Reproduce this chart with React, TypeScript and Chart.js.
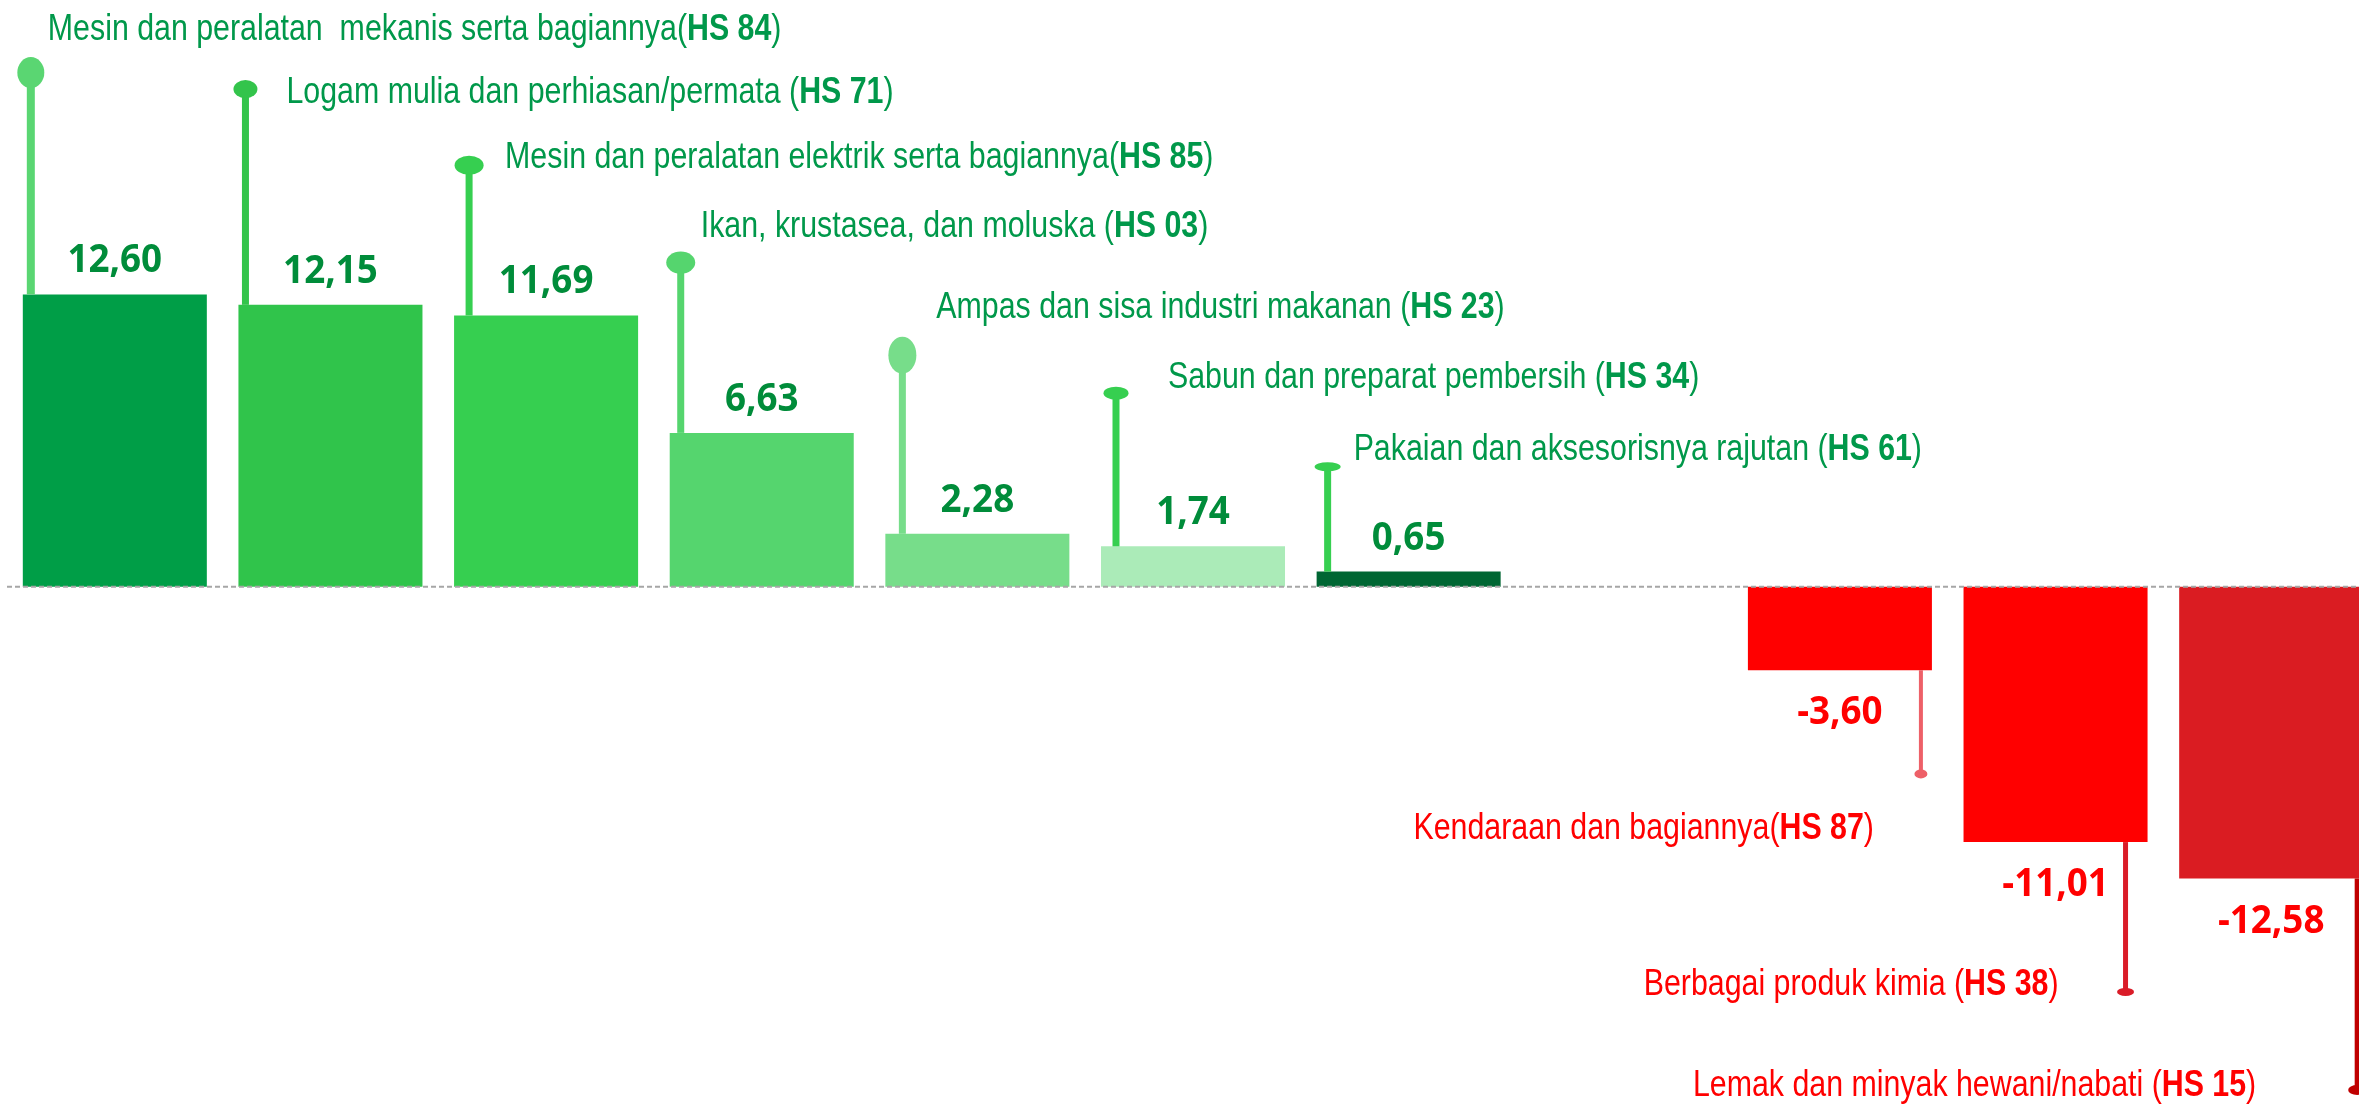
import React, { useEffect, useRef } from "react";
import { Chart, registerables } from "chart.js";

Chart.register(...registerables);

// ---------- data ----------
const categories = [
  "Mesin dan peralatan  mekanis serta bagiannya",
  "Logam mulia dan perhiasan/permata ",
  "Mesin dan peralatan elektrik serta bagiannya",
  "Ikan, krustasea, dan moluska ",
  "Ampas dan sisa industri makanan ",
  "Sabun dan preparat pembersih ",
  "Pakaian dan aksesorisnya rajutan ",
  "",
  "Kendaraan dan bagiannya",
  "Berbagai produk kimia ",
  "Lemak dan minyak hewani/nabati ",
];
const hsCodes = ["HS 84", "HS 71", "HS 85", "HS 03", "HS 23", "HS 34", "HS 61", "", "HS 87", "HS 38", "HS 15"];
const values = [12.6, 12.15, 11.69, 6.63, 2.28, 1.74, 0.65, null, -3.6, -11.01, -12.58];
// end value of each lollipop stem (same units as values)
const markerValues = [22.16, 21.45, 18.17, 13.97, 9.98, 8.34, 5.17, null, -8.07, -17.47, -21.7];

// ---------- styles ----------
const barColors = ["#009E47", "#30C44B", "#36CF50", "#55D56E", "#77DD8A", "#ABEBB8", "#006633", "#ffffff", "#FF0000", "#FF0000", "#DA1C22"];
const stemColors = ["#5AD672", "#33C44B", "#36CF50", "#55D56E", "#77DD8A", "#36CF50", "#36CF50", "", "#EE6068", "#DA1C28", "#C00000"];
const stemWidths = [8, 7, 7, 7, 7, 7, 7, 0, 4, 5, 5];
const dotSizes = [[27, 31], [24, 18], [29, 19], [29, 22], [28, 37], [25, 13], [26, 9], [0, 0], [13, 9], [17, 8], [18, 10]];
const stemOffsets = [-84, -85, -77, -81, -75, -77, -81, 0, 81, 70, 86];
// label: [dx from stem, baseline dy from dot]; negatives are right-aligned
const labelOffsets = [[17, -32.7], [41, 13.7], [36, 3], [20, -25.7], [34, -37], [52, -5.3], [26, -6.7], [0, 0], [-47, 65.3], [-67, 3], [-101, 6]];
const GREEN_TEXT = "#00984A";
const GREEN_VALUE = "#008C3A";
const RED_TEXT = "#FF0000";
const LABEL_SIZE = 37;

const Y_MIN = -22.3;
const Y_MAX = 25.29;

function fmt(v: number) {
  return v.toFixed(2).replace(".", ",");
}

const overlayPlugin = {
  id: "overlay",
  afterDatasetsDraw(chart: any) {
    const ctx: CanvasRenderingContext2D = chart.ctx;
    const xs = chart.scales.x;
    const ys = chart.scales.y;
    const area = chart.chartArea;
    const zeroY = ys.getPixelForValue(0);

    // detect narrow font
    ctx.save();
    ctx.font = '36px "Liberation Sans Narrow", monospace';
    const wNarrow = ctx.measureText("Mesin dan peralatan").width;
    ctx.font = "36px monospace";
    const wMono = ctx.measureText("Mesin dan peralatan").width;
    ctx.restore();
    const hasNarrow = Math.abs(wNarrow - wMono) > 1;
    const baseFamily = hasNarrow ? '"Liberation Sans Narrow"' : '"Liberation Sans"';
    const sx = hasNarrow ? 1 : 0.82;

    // zero line
    ctx.save();
    ctx.strokeStyle = "#A6A6A6";
    ctx.lineWidth = 2;
    ctx.setLineDash([5, 3]);
    ctx.beginPath();
    ctx.moveTo(area.left, zeroY);
    ctx.lineTo(area.right + 20, zeroY);
    ctx.stroke();
    ctx.restore();

    values.forEach((v, i) => {
      if (v === null || markerValues[i] === null) return;
      const cx = xs.getPixelForValue(i);
      const barEnd = ys.getPixelForValue(v);
      const dotY = ys.getPixelForValue(markerValues[i] as number);
      const stemX = cx + stemOffsets[i];

      // stem
      ctx.save();
      ctx.fillStyle = stemColors[i];
      const w = stemWidths[i];
      const top = Math.min(barEnd, dotY);
      const bot = Math.max(barEnd, dotY);
      ctx.fillRect(stemX - w / 2, top, w, bot - top);
      // dot
      const [dw, dh] = dotSizes[i];
      ctx.beginPath();
      ctx.ellipse(stemX, dotY, dw / 2, dh / 2, 0, 0, Math.PI * 2);
      ctx.fill();
      ctx.restore();

      // value label
      ctx.save();
      ctx.font = 'bold 40px "Open Sans"';
      ctx.textAlign = "center";
      ctx.textBaseline = "alphabetic";
      ctx.fillStyle = v >= 0 ? GREEN_VALUE : RED_TEXT;
      const vy = v >= 0 ? barEnd - 22 : barEnd + 54;
      ctx.translate(cx, vy);
      ctx.scale(0.92, 1);
      ctx.fillText(fmt(v), 0, 0);
      ctx.restore();

      // category label
      const parts: [string, boolean][] = [
        [categories[i] + "(", false],
        [hsCodes[i], true],
        [")", false],
      ];
      ctx.save();
      ctx.fillStyle = v >= 0 ? GREEN_TEXT : RED_TEXT;
      ctx.textAlign = "left";
      ctx.textBaseline = "alphabetic";
      let total = 0;
      const widths = parts.map(([t, b]) => {
        ctx.font = (b ? "bold " : "") + LABEL_SIZE + "px " + baseFamily;
        const mw = ctx.measureText(t).width;
        total += mw;
        return mw;
      });
      const [ldx, ldy] = labelOffsets[i];
      const startX = v >= 0 ? stemX + ldx : stemX + ldx - total * sx;
      ctx.translate(startX, dotY + ldy);
      ctx.scale(sx, 1);
      let px = 0;
      parts.forEach(([t, b], k) => {
        ctx.font = (b ? "bold " : "") + LABEL_SIZE + "px " + baseFamily;
        ctx.fillText(t, px, 0);
        px += widths[k];
      });
      ctx.restore();
    });
  },
};

export default function App() {
  const ref = useRef<HTMLCanvasElement | null>(null);
  useEffect(() => {
    document.body.style.margin = "0";
    const canvas = ref.current;
    if (!canvas) return;
    const chart = new Chart(canvas, {
      type: "bar",
      data: {
        labels: categories.map((c, i) => c + hsCodes[i]),
        datasets: [
          {
            data: values as any,
            backgroundColor: barColors,
            borderWidth: 0,
            categoryPercentage: 1,
            barPercentage: 0.8534,
          },
        ],
      },
      options: {
        responsive: false,
        animation: false,
        devicePixelRatio: 1,
        layout: { padding: 0 },
        plugins: {
          legend: { display: false },
          tooltip: { enabled: false },
          title: { display: false },
        },
        scales: {
          x: { display: false, grid: { display: false } },
          y: { display: false, min: Y_MIN, max: Y_MAX, grid: { display: false } },
        },
      },
      plugins: [overlayPlugin],
    });
    return () => chart.destroy();
  }, []);

  return (
    <div
      style={{
        position: "fixed",
        left: 0,
        top: 0,
        width: 2359,
        height: 1104,
        overflow: "hidden",
        background: "#ffffff",
      }}
    >
      <canvas
        ref={ref}
        width={2372}
        height={1104}
        style={{ position: "absolute", left: 7, top: 0, width: 2372, height: 1104 }}
      />
    </div>
  );
}
